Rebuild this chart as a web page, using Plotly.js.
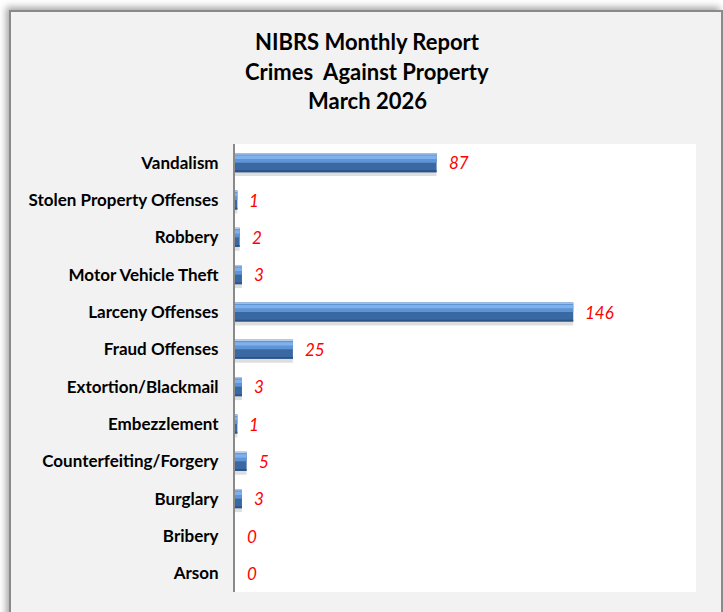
<!DOCTYPE html>
<html><head><meta charset="utf-8">
<script src="https://cdn.plot.ly/plotly-3.0.1.min.js"></script>
<style>
html,body{margin:0;padding:0;background:#ffffff;width:723px;height:612px;overflow:hidden;}
#frame{position:absolute;left:9px;top:10px;width:710px;height:610px;border:2px solid #8a8a8a;border-bottom:none;background:#f2f2f2;box-shadow:-3px -3px 7px rgba(0,0,0,0.35);}
#chart{width:710px;height:602px;}
</style></head>
<body>
<div id="frame"><div id="chart"></div></div>
<script>
const categories = ["Arson","Bribery","Burglary","Counterfeiting/Forgery","Embezzlement","Extortion/Blackmail","Fraud Offenses","Larceny Offenses","Motor Vehicle Theft","Robbery","Stolen Property Offenses","Vandalism"];
const counts = [0,0,3,5,1,3,25,146,3,2,1,87];
const titleLines = ["NIBRS Monthly Report","Crimes  Against Property","March 2026"];

const font = "Lato, 'Open Sans', sans-serif";
function barLayer(color, width, offset){
  return {type:'bar', orientation:'h', x:counts, y:categories, width:width, offset:offset,
    marker:{color:color, line:{width:0}}, hoverinfo:'skip', showlegend:false};
}
const traces = [
  barLayer('rgba(0,0,0,0.13)', 0.51, -0.36),
  barLayer('#3a68a3', 0.51, -0.255),
  barLayer('#2c5183', 0.05, -0.255),
  barLayer('#5f95d6', 0.255, 0.0),
  barLayer('#7fb2ec', 0.09, 0.1),
  barLayer('#b5cdea', 0.035, 0.22)
];
const annotations = categories.map((c,i)=>({x:counts[i], y:c, xref:'x', yref:'y', text:String(counts[i]),
  showarrow:false, xanchor:'left', yanchor:'middle', xshift:10,
  font:{family:font, size:17, color:'#ff0000', style:'italic'}}));
const titleY = [1.2277, 1.1629, 1.096];
titleLines.forEach((t,i)=>annotations.push({text:t, xref:'paper', yref:'paper', x:0.287, y:titleY[i],
  xanchor:'center', yanchor:'middle', showarrow:false,
  font:{family:font, size:22, color:'#000000', weight:'bold'}}));

const layout = {
  width:710, height:602,
  paper_bgcolor:'#f2f2f2', plot_bgcolor:'#ffffff',
  margin:{l:224, r:25, t:132, b:22},
  barmode:'overlay',
  xaxis:{range:[0,199], showgrid:false, zeroline:false, showticklabels:false, ticks:'', showline:false, fixedrange:true},
  yaxis:{type:'category', showgrid:false, zeroline:false, showline:true, linecolor:'#8a8a8a', linewidth:2,
    ticks:'', ticklabelstandoff:11, tickfont:{family:font, size:17, color:'#000000', weight:'bold'}},
  annotations:annotations
};
Plotly.newPlot('chart', traces, layout, {displayModeBar:false, staticPlot:true});
</script>
</body></html>
